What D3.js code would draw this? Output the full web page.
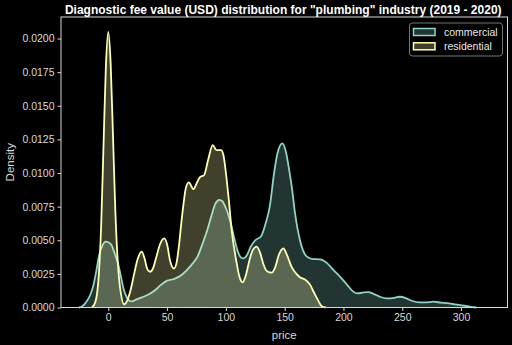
<!DOCTYPE html>
<html><head><meta charset="utf-8">
<script src="https://cdn.jsdelivr.net/npm/d3@7"></script>
<style>
html,body{margin:0;padding:0;background:#000;}
svg{display:block;}
text{font-family:"Liberation Sans",Arial,Helvetica,sans-serif;}
</style></head>
<body>
<script>
const title = 'Diagnostic fee value (USD) distribution for "plumbing" industry (2019 - 2020)';
const seriesNames = ["commercial", "residential"];
const seriesColors = ["#8dd3c7", "#ffffb3"];
const xTicks = [0, 50, 100, 150, 200, 250, 300];
const yTicks = [0, 0.0025, 0.005, 0.0075, 0.01, 0.0125, 0.015, 0.0175, 0.02];

// commercial KDE: [price, density]
const commercialPrice = [-25,-22,-18,-15,-12.8,-10,-8,-5,-2.5,0,3,5.5,8.5,11,13,15.5,18,20,24,30,35,40,45,50,55,58,62,67,72,76,80,84,88,91,94.4,97,100,103.5,107,110,113,115,118,121,125,130,134,137.5,141,144,148,151,153.5,156,159,163,168.7,174,180,186,191.4,197,203,208,212,216,221,226,231,236.8,242,248,253,258,265,270,276.5,283,288,293,298,303,308,313];
const commercialDensity = [0,0.0001,0.0005,0.0010,0.0016,0.0028,0.0038,0.0046,0.0049,0.00485,0.0046,0.0040,0.0032,0.0022,0.0014,0.0008,0.0005,0.00045,0.0006,0.0008,0.0010,0.0013,0.0017,0.0020,0.0021,0.0022,0.0024,0.0028,0.0033,0.0038,0.0047,0.0057,0.0069,0.0077,0.0080,0.0079,0.0074,0.0065,0.0052,0.0042,0.0037,0.00365,0.0039,0.0045,0.0050,0.0053,0.0063,0.0076,0.0100,0.0115,0.0122,0.0116,0.0104,0.0090,0.0069,0.0050,0.0038,0.0036,0.00358,0.0033,0.0028,0.0023,0.0017,0.0012,0.00105,0.0011,0.00115,0.0010,0.0008,0.00068,0.00070,0.0008,0.0007,0.0005,0.00038,0.00038,0.00043,0.00036,0.00032,0.00026,0.0002,0.00013,0.00005,0];

// residential KDE: [price, density]
const residentialPrice = [-14,-11,-8,-6,-4,-2,0,2,4,6,8,10,13.6,16,19,22,25,28.4,31,33,35.5,38,41,44,47.6,50,52.5,55.9,58,60,62,64,66,68.5,72.5,75,78,81.5,85,88.8,92,96,98,100.7,102.5,105,109.2,111.5,114.3,117,120,123,126.2,129,132,135,139,142,145,148.9,152,156,160,163,167,171.6,175,178,181.5,185];
const residentialDensity = [0,0.0004,0.0025,0.0062,0.0122,0.0180,0.0205,0.0182,0.0128,0.0072,0.0035,0.0015,0.00024,0.0005,0.0013,0.0025,0.0036,0.00415,0.0036,0.0029,0.00266,0.0029,0.0038,0.0047,0.00514,0.0047,0.0035,0.0029,0.0033,0.0045,0.0062,0.0077,0.0089,0.0093,0.0088,0.0092,0.0097,0.00985,0.0110,0.01208,0.0117,0.0117,0.0113,0.0095,0.0080,0.0057,0.0033,0.0023,0.00187,0.0024,0.0035,0.0043,0.00452,0.0041,0.0032,0.0027,0.00259,0.0030,0.0039,0.0044,0.0039,0.0030,0.0025,0.00225,0.0021,0.0017,0.0011,0.0006,0.0001,0];

const W = 512, H = 345;
const plot = {left: 61, right: 507.5, top: 17, bottom: 307.5};

const svg = d3.select("body").append("svg").attr("width", W).attr("height", H);
svg.append("rect").attr("width", W).attr("height", H).attr("fill", "#000");

const x = d3.scaleLinear().domain([-40.2, 339.5]).range([plot.left, plot.right]);
const y = d3.scaleLinear().domain([0, 0.0216]).range([plot.bottom, plot.top]);

const series = [
  {name: seriesNames[0], color: seriesColors[0], pts: commercialPrice.map((p, i) => [p, commercialDensity[i]])},
  {name: seriesNames[1], color: seriesColors[1], pts: residentialPrice.map((p, i) => [p, residentialDensity[i]])}
];

const area = d3.area().x(d => x(d[0])).y0(y(0)).y1(d => y(d[1])).curve(d3.curveMonotoneX);
const line = d3.line().x(d => x(d[0])).y(d => y(d[1])).curve(d3.curveMonotoneX);

const g = svg.append("g");
series.forEach(s => {
  g.append("path").attr("d", area(s.pts)).attr("fill", s.color).attr("fill-opacity", 0.25);
  g.append("path").attr("d", line(s.pts)).attr("fill", "none").attr("stroke", s.color).attr("stroke-width", 1.8).attr("stroke-linejoin", "round");
});

// frame
const axisColor = "#d8d8d8";
svg.append("rect").attr("x", plot.left).attr("y", plot.top)
  .attr("width", plot.right - plot.left).attr("height", plot.bottom - plot.top)
  .attr("fill", "none").attr("stroke", axisColor).attr("stroke-width", 1);

// x axis
const xa = svg.append("g").attr("transform", `translate(0,${plot.bottom})`)
  .call(d3.axisBottom(x).tickValues(xTicks).tickFormat(d3.format("d")).tickSizeOuter(0).tickSize(3.5).tickPadding(3));
xa.select(".domain").remove();
xa.selectAll("line").attr("stroke", axisColor);
xa.selectAll("text").attr("fill", "#d8d8d8").attr("font-size", 10.5).attr("font-family", '"Liberation Sans",Arial,sans-serif');

// y axis
const ya = svg.append("g").attr("transform", `translate(${plot.left},0)`)
  .call(d3.axisLeft(y).tickValues(yTicks).tickFormat(d3.format(".4f")).tickSizeOuter(0).tickSize(3.5).tickPadding(3));
ya.select(".domain").remove();
ya.selectAll("line").attr("stroke", axisColor);
ya.selectAll("text").attr("fill", "#d8d8d8").attr("font-size", 10.5).attr("font-family", '"Liberation Sans",Arial,sans-serif');

// axis labels
svg.append("text").attr("x", (plot.left + plot.right) / 2).attr("y", 339)
  .attr("text-anchor", "middle").attr("fill", "#d8d8d8").attr("font-size", 11.5).text("price");
svg.append("text").attr("transform", `translate(14,${(plot.top + plot.bottom) / 2}) rotate(-90)`)
  .attr("text-anchor", "middle").attr("fill", "#d8d8d8").attr("font-size", 11.5).text("Density");

// title, fitted to width
const t = svg.append("text").attr("x", (plot.left + plot.right) / 2 - 1).attr("y", 13.5)
  .attr("text-anchor", "middle").attr("fill", "#fff").attr("font-weight", "bold").attr("font-size", 12).text(title);
const tw = t.node().getComputedTextLength();
t.attr("font-size", 12 * 437 / tw);

// legend
const lg = svg.append("g");
lg.append("rect").attr("x", 409.5).attr("y", 23).attr("width", 93).attr("height", 33).attr("rx", 3)
  .attr("fill", "#000").attr("fill-opacity", 0.8).attr("stroke", "#777").attr("stroke-width", 1);
series.forEach((s, i) => {
  const yy = 28.5 + i * 14.3;
  lg.append("rect").attr("x", 413.5).attr("y", yy).attr("width", 21.5).attr("height", 7)
    .attr("fill", s.color).attr("fill-opacity", 0.25).attr("stroke", s.color).attr("stroke-width", 1.5);
  lg.append("text").attr("x", 444).attr("y", yy + 7.5).attr("fill", "#e8e8e8").attr("font-size", 10.5).text(s.name);
});
</script>
</body></html>
